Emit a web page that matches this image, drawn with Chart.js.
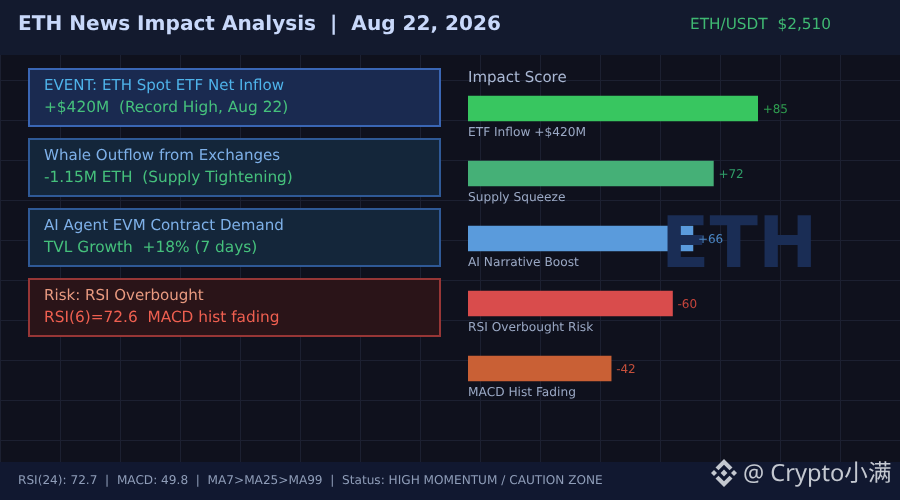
<!DOCTYPE html>
<html>
<head>
<meta charset="utf-8">
<title>ETH News Impact Analysis</title>
<script src="https://cdn.jsdelivr.net/npm/chart.js@4"></script>
<style>
  html, body { margin: 0; padding: 0; background: #0f111d; }
  #wrap { position: relative; width: 900px; height: 500px; overflow: hidden; }
</style>
</head>
<body>
<div id="wrap"><canvas id="chart" width="900" height="500"></canvas></div>
<script>
const labels = ['ETF Inflow +$420M', 'Supply Squeeze', 'AI Narrative Boost', 'RSI Overbought Risk', 'MACD Hist Fading']
const scores = [85, 72, 66, -60, -42]
const barColors = ['#38c660', '#45b077', '#5a9bdc', '#d94c4c', '#c96035']
const scoreColors = ['#2f9e50', '#2f9e68', '#4a86c4', '#c6453c', '#c6503c']

const titleText = 'ETH News Impact Analysis  |  Aug 22, 2026'
const priceText = 'ETH/USDT  $2,510'
const panelTitle = 'Impact Score'
const footerText = 'RSI(24): 72.7  |  MACD: 49.8  |  MA7>MA25>MA99  |  Status: HIGH MOMENTUM / CAUTION ZONE'
const handleText = '@ Crypto小满'
const watermarkText = 'ETH'

const newsTop = ['EVENT: ETH Spot ETF Net Inflow', 'Whale Outflow from Exchanges', 'AI Agent EVM Contract Demand', 'Risk: RSI Overbought']
const newsBottom = ['+$420M  (Record High, Aug 22)', '-1.15M ETH  (Supply Tightening)', 'TVL Growth  +18% (7 days)', 'RSI(6)=72.6  MACD hist fading']
const newsTopColors = ['#4fb3ea', '#7eb0e8', '#7eb0e8', '#e89a80']
const newsBottomColors = ['#45c07c', '#45c07c', '#45c07c', '#ee5f50']
const newsFills = ['#1a2a50', '#14263a', '#14263a', '#2a1418']
const newsBorders = ['#3a66b4', '#2f5996', '#2f5996', '#973636']

const font = '"DejaVu Sans", sans-serif'

function text(ctx, str, x, y, size, color, weight) {
  ctx.font = (weight || 'normal') + ' ' + size + 'px ' + font
  ctx.fillStyle = color
  ctx.textAlign = 'left'
  ctx.textBaseline = 'alphabetic'
  ctx.fillText(str, x, y)
}

function binanceLogo(ctx, cx, cy) {
  ctx.fillStyle = '#c4c8d0'
  const diamond = (x, y, r) => {
    ctx.beginPath()
    ctx.moveTo(x, y - r); ctx.lineTo(x + r, y); ctx.lineTo(x, y + r); ctx.lineTo(x - r, y)
    ctx.closePath(); ctx.fill()
  }
  diamond(cx, cy, 3.4)
  diamond(cx - 10, cy, 3)
  diamond(cx + 10, cy, 3)
  const chevron = (dir) => {
    ctx.beginPath()
    ctx.moveTo(cx, cy + dir * 14)
    ctx.lineTo(cx + 8.5, cy + dir * 5.5)
    ctx.lineTo(cx + 5.5, cy + dir * 2.8)
    ctx.lineTo(cx, cy + dir * 8.2)
    ctx.lineTo(cx - 5.5, cy + dir * 2.8)
    ctx.lineTo(cx - 8.5, cy + dir * 5.5)
    ctx.closePath(); ctx.fill()
  }
  chevron(-1)
  chevron(1)
}

const backdrop = {
  id: 'backdrop',
  beforeDraw(chart) {
    const ctx = chart.ctx
    ctx.textRendering = 'geometricPrecision'
    ctx.save()
    ctx.fillStyle = '#0f111d'
    ctx.fillRect(0, 0, 900, 500)

    // background grid
    ctx.strokeStyle = '#1c2031'
    ctx.lineWidth = 1
    ctx.beginPath()
    for (let x = 0; x <= 900; x += 60) { ctx.moveTo(x + 0.5, 55); ctx.lineTo(x + 0.5, 462) }
    for (let y = 80; y <= 440; y += 40) { ctx.moveTo(0, y + 0.5); ctx.lineTo(900, y + 0.5) }
    ctx.stroke()

    // header + footer
    ctx.fillStyle = '#131a2e'
    ctx.fillRect(0, 0, 900, 55)
    ctx.fillStyle = '#111830'
    ctx.fillRect(0, 462, 900, 38)

    text(ctx, titleText, 18, 30, 20.08, '#c8d8fa', 'bold')
    text(ctx, priceText, 690, 29, 15.3, '#3fb872')
    text(ctx, panelTitle, 468, 82, 15, '#aab8d4')
    text(ctx, footerText, 18, 484, 12.12, '#8f9db8')

    // news boxes
    newsTop.forEach((line, i) => {
      const y = 69 + i * 70
      ctx.fillStyle = newsFills[i]
      ctx.fillRect(29, y, 411, 57)
      ctx.strokeStyle = newsBorders[i]
      ctx.lineWidth = 2
      ctx.strokeRect(29, y, 411, 57)
      text(ctx, line, 44, y + 21, 15.05, newsTopColors[i])
      text(ctx, newsBottom[i], 44, y + 43, 15.35, newsBottomColors[i])
    })
    ctx.restore()
  },
  afterDatasetsDraw(chart) {
    const ctx = chart.ctx
    ctx.save()
    text(ctx, watermarkText, 661, 267, 71, '#1a2d55', 'bold')

    const meta = chart.getDatasetMeta(0)
    meta.data.forEach((bar, i) => {
      const s = (scores[i] > 0 ? '+' : '') + scores[i]
      text(ctx, s, bar.x + 5, bar.y + 4.5, 12, scoreColors[i])
    })
    ctx.restore()
  },
  afterDraw(chart) {
    const ctx = chart.ctx
    ctx.save()
    binanceLogo(ctx, 724, 473)
    ctx.font = '23.6px "Noto Sans", "Noto Sans CJK SC", sans-serif'
    ctx.fillStyle = '#c4c8d0'
    ctx.textAlign = 'left'
    ctx.textBaseline = 'alphabetic'
    ctx.fillText(handleText, 743, 481)
    ctx.restore()
  }
}

new Chart(document.getElementById('chart'), {
  type: 'bar',
  data: {
    labels,
    datasets: [{
      data: scores.map(Math.abs),
      backgroundColor: barColors,
      borderWidth: 0,
      barThickness: 25
    }]
  },
  options: {
    indexAxis: 'y',
    responsive: false,
    animation: false,
    layout: { padding: { left: 468, right: 91.2, top: 76, bottom: 99 } },
    plugins: { legend: { display: false }, tooltip: { enabled: false } },
    scales: {
      x: { min: 0, max: 100, display: false },
      y: {
        border: { display: false },
        grid: { display: false, drawTicks: false, tickLength: 0 },
        ticks: {
          mirror: true,
          padding: 0,
          labelOffset: 24,
          color: '#9aa8c4',
          font: { family: font, size: 12.2 }
        }
      }
    }
  },
  plugins: [backdrop]
})
</script>
</body>
</html>
